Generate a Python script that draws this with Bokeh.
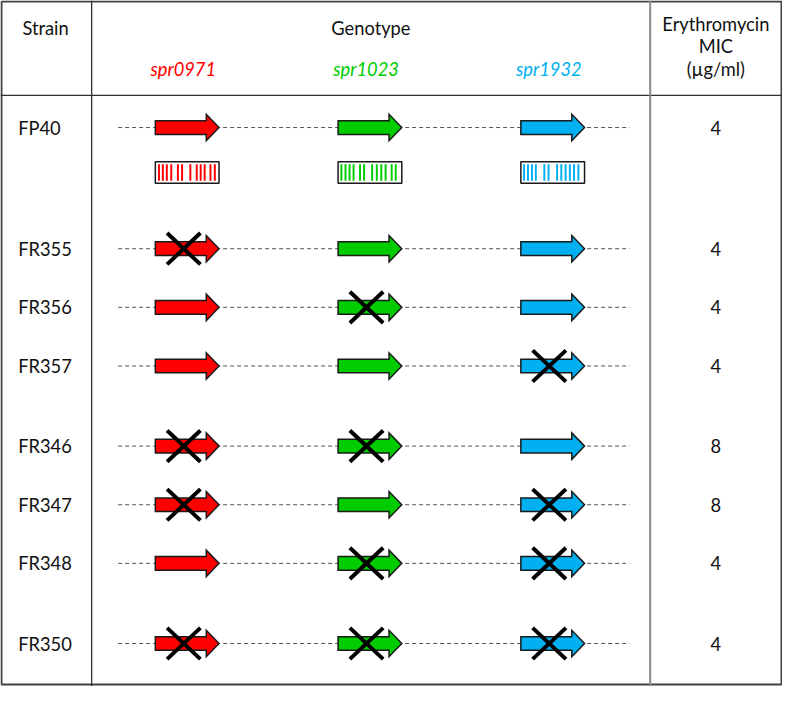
from bokeh.plotting import figure
from bokeh.models import Range1d
from bokeh.core.properties import value
from bokeh.embed import file_html
from bokeh.resources import INLINE

# ---------------- data ----------------
strains = ["FP40", "FR355", "FR356", "FR357", "FR346", "FR347", "FR348", "FR350"]
strain_group = [0, 1, 1, 1, 2, 2, 2, 3]
genes = ["spr0971", "spr1023", "spr1932"]
gene_colors = ["#FF0000", "#00CC00", "#00B0F0"]
deleted_spr0971 = [0, 1, 0, 0, 1, 1, 0, 1]
deleted_spr1023 = [0, 0, 1, 0, 1, 0, 1, 1]
deleted_spr1932 = [0, 0, 0, 1, 0, 1, 1, 1]
mic_values = ["4", "4", "4", "4", "8", "8", "4", "4"]
# barcode stripe positions (fraction of gene length) for the wild-type reference
barcode_spr0971 = [0.057, 0.118, 0.18, 0.25, 0.354, 0.42, 0.55, 0.65, 0.712, 0.774, 0.866, 0.934]
barcode_spr1023 = [0.052, 0.116, 0.18, 0.243, 0.344, 0.408, 0.535, 0.608, 0.678, 0.746, 0.841, 0.905]
barcode_spr1932 = [0.051, 0.112, 0.174, 0.235, 0.369, 0.435, 0.569, 0.635, 0.703, 0.769, 0.835, 0.903]
header_strain = "Strain"
header_genotype = "Genotype"
header_mic = ["Erythromycin", "MIC", "(µg/ml)"]

deleted = [deleted_spr0971, deleted_spr1023, deleted_spr1932]
barcodes = [barcode_spr0971, barcode_spr1023, barcode_spr1932]

# ---------------- layout ----------------
W, H = 798, 702
FONT = value("Lato")
FS = "18.3px"
col1, col2 = 93, 663
head_line = 97
row0, pitch, bar_gap, grp_gap = 130, 60, 64, 22
gene_x0, gene_step, gene_len, head_len = 158, 186.5, 65, 13
body_h, head_h = 7, 13.5
dash_x0, dash_x1 = 120, 642
mic_x = 730


def row_y(i):
    g = strain_group[i]
    return row0 + pitch * i + (bar_gap if g >= 1 else 0) + grp_gap * max(g - 1, 0)


p = figure(width=782, height=686, x_range=Range1d(0, W), y_range=Range1d(H, 0),
           output_backend="svg", toolbar_location=None, min_border=0,
           x_axis_type=None, y_axis_type=None)
p.grid.visible = False
p.outline_line_color = None
p.background_fill_color = "white"

# table lines
p.multi_line(xs=[[1, W - 1, W - 1, 1, 1]], ys=[[1, 1, H - 2, H - 2, 1]],
             line_color="#404040", line_width=2)
p.multi_line(xs=[[col1, col1], [0, W]], ys=[[0, H], [head_line, head_line]],
             line_color="#303030", line_width=1.3)
p.multi_line(xs=[[col2, col2]], ys=[[0, H]], line_color="#8a8a8a", line_width=2)

# headers
p.text(x=[46], y=[28], text=[header_strain], text_font=FONT, text_font_size=FS,
       text_align="center", text_baseline="middle", text_color="#111111")
p.text(x=[378], y=[28], text=[header_genotype], text_font=FONT, text_font_size=FS,
       text_align="center", text_baseline="middle", text_color="#111111")
p.text(x=[mic_x] * 3, y=[24, 47, 70], text=header_mic, text_font=FONT, text_font_size=FS,
       text_align="center", text_baseline="middle", text_color="#111111")
gx = [gene_x0 + gene_step * j for j in range(len(genes))]
p.text(x=[x + gene_len / 2 - 4 for x in gx], y=[70] * len(genes), text=genes,
       text_color=gene_colors, text_font=FONT, text_font_size=FS, text_font_style="italic",
       text_align="center", text_baseline="middle")

ys_rows = [row_y(i) for i in range(len(strains))]

# strain labels and MIC
p.text(x=[18] * len(strains), y=ys_rows, text=strains, text_font=FONT, text_font_size=FS,
       text_align="left", text_baseline="middle", text_color="#111111")
p.text(x=[mic_x] * len(strains), y=ys_rows, text=mic_values, text_font=FONT, text_font_size=FS,
       text_align="center", text_baseline="middle", text_color="#111111")

# dashed chromosome lines
p.multi_line(xs=[[dash_x0, dash_x1] for _ in ys_rows], ys=[[y, y] for y in ys_rows],
             line_color="#555555", line_width=1, line_dash="4 3")

# arrows
axs, ays, acol = [], [], []
for i, y in enumerate(ys_rows):
    for j, x0 in enumerate(gx):
        x1 = x0 + gene_len
        xh = x1 - head_len
        axs.append([x0, xh, xh, x1, xh, xh, x0])
        ays.append([y - body_h, y - body_h, y - head_h, y, y + head_h, y + body_h, y + body_h])
        acol.append(gene_colors[j])
p.patches(xs=axs, ys=ays, fill_color=acol, line_color="#1a1a1a", line_width=1.5,
          line_join="miter")

# crosses for deleted genes
cxs, cys = [], []
for i, y in enumerate(ys_rows):
    for j, x0 in enumerate(gx):
        if deleted[j][i]:
            cx = x0 + gene_len / 2 - 3.5
            cxs += [[cx - 17, cx + 17], [cx - 17, cx + 17]]
            cys += [[y - 16, y + 16], [y + 16, y - 16]]
p.multi_line(xs=cxs, ys=cys, line_color="black", line_width=4)

# barcodes under FP40
by0, by1 = ys_rows[0] + 35, ys_rows[0] + 57
p.quad(left=gx, right=[x + gene_len for x in gx], top=[by0] * 3, bottom=[by1] * 3,
       fill_color="white", line_color="#1a1a1a", line_width=1.5)
sl, sr, sc = [], [], []
for j, x0 in enumerate(gx):
    for f in barcodes[j]:
        sx = x0 + f * gene_len
        sl.append(sx - 1)
        sr.append(sx + 1)
        sc.append(gene_colors[j])
p.quad(left=sl, right=sr, top=[by0 + 2.5] * len(sl), bottom=[by1 - 2.5] * len(sl),
       fill_color=sc, line_color=None)

open("out.html", "w").write(file_html(p, INLINE))
